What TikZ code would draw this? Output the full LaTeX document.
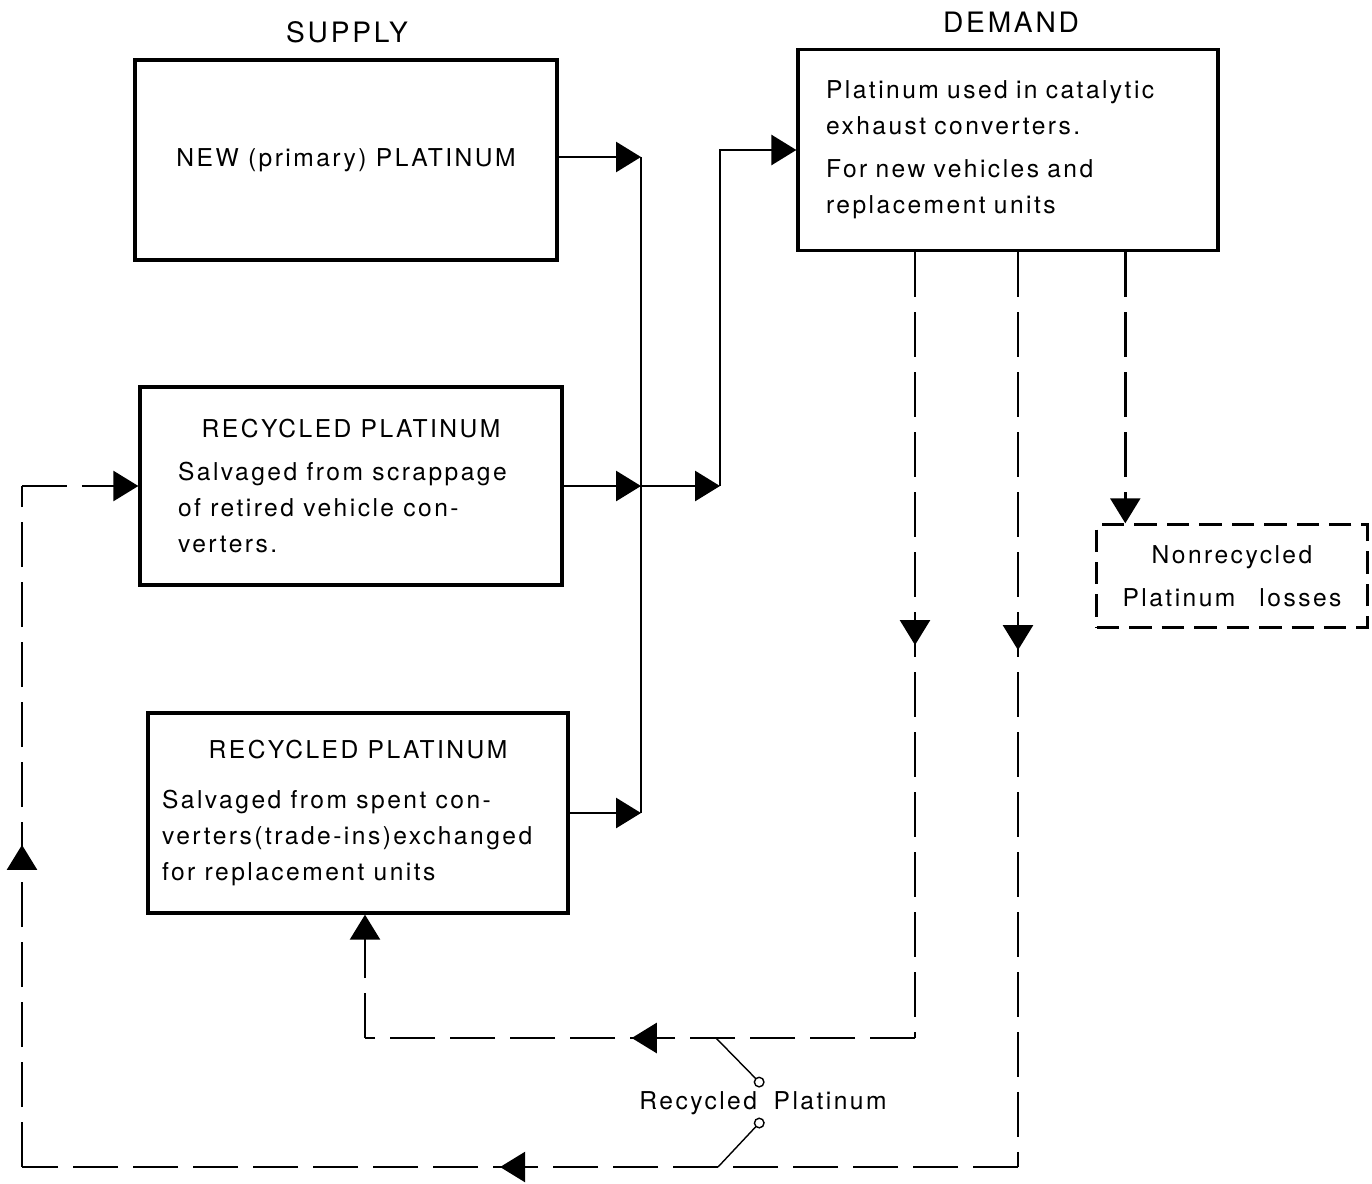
\documentclass[tikz,border=0pt]{standalone}
\usepackage{fontspec}
\setmainfont{TeX Gyre Heros}[LetterSpace=10]
\usetikzlibrary{arrows.meta, positioning, calc, decorations.markings}
\tikzstyle{box} = [rectangle, draw=black, line width=1.9pt, text centered]
\tikzstyle{lossbox} = [rectangle, draw=black, line width=1.4pt, dash pattern=on 0.45cm off 0.2cm, align=center]
\tikzstyle{feed} = [line width=1.6pt]
\tikzstyle{arrow} = [line width=1.6pt, -{Triangle[length=5mm,width=6mm]}]
\tikzstyle{back} = [line width=1.4pt, dash pattern=on 0.9cm off 0.3cm]
\tikzstyle{backarrow} = [back, -{Triangle[length=5mm,width=6mm]}]
\tikzstyle{tag} = [line width=0.8pt, -{Circle[open,length=2.2mm]}]
\tikzset{midarrow/.style={postaction={decorate}, decoration={markings, mark=at position #1 with {\arrow{Triangle[length=5mm,width=6mm]}}}}}

\begin{document}
\begin{tikzpicture}[x=0.02cm, y=-0.02cm, font=\fontsize{14pt}{20.5pt}\selectfont]
    \useasboundingbox (0,0) rectangle (1372,1183);

        % Supply column
        \node (supply) at (347,32) {\fontsize{16pt}{19pt}\selectfont SUPPLY};
        \node (new) [box, minimum width=8.44cm, minimum height=4cm] at (346,160) {NEW (primary) PLATINUM};
        \node (rec1) [box, minimum width=8.44cm, minimum height=3.96cm] at (351,486)
            {\parbox{6.92cm}{{\centering RECYCLED PLATINUM\par}\vspace{4pt}\raggedright
             Salvaged from scrappage\\ of retired vehicle con-\\ verters.}};
        \node (rec2) [box, minimum width=8.4cm, minimum height=4cm] at (358,813)
            {\parbox{7.84cm}{{\centering RECYCLED PLATINUM\par}\vspace{8pt}\raggedright
             Salvaged from spent con-\\ verters(trade-ins)exchanged\\ for replacement units}};

        % Demand column
        \node (demandlbl) at (1011,22) {\fontsize{16pt}{19pt}\selectfont DEMAND};
        \node (demand) [box, minimum width=8.4cm, minimum height=4.02cm, text width=7.28cm, align=left] at (1008,150)
            {Platinum used in catalytic\\ exhaust converters.\\[4pt] For new vehicles and\\ replacement units};
        \node (losses) [lossbox, minimum width=5.42cm, minimum height=2.06cm] at (1232,576)
            {Nonrecycled\\[4pt] Platinum\hspace{0.6em} losses};

        % Supply to demand
        \coordinate (busT) at (641,157);
        \coordinate (join) at (641,486);
        \coordinate (busB) at (641,813);
        \coordinate (turn) at (720,486);
        \draw [arrow] (new.east |- busT) -- (busT);
        \draw [arrow] (rec1.east) -- (join);
        \draw [arrow] (rec2.east) -- (busB);
        \draw [feed] (busT) -- (busB);
        \draw [arrow] (join) -- (turn);
        \draw [arrow] (turn) |- (demand.west);

        % Recycling loops
        \coordinate (inA) at (915,1038);
        \coordinate (inB) at (365,1038);
        \coordinate (outA) at (1018,1167);
        \coordinate (outB) at (22,1167);
        \coordinate (outC) at (22,486);
        \coordinate (lossIn) at ($(losses.north west)+(30,0)$);

        \draw [back, midarrow=0.5] (demand.south -| inA) -- (inA);
        \draw [back, midarrow=0.515] (inA) -- (inB);
        \draw [backarrow] (inB) -- (rec2.south -| inB);

        \draw [back, midarrow=0.435] (demand.south -| outA) -- (outA);
        \draw [back, midarrow=0.52] (outA) -- (outB);
        \draw [back, midarrow=0.473] (outB) -- (outC);
        \draw [backarrow] (outC) -- (rec1.west);

        \draw [backarrow] (demand.south -| lossIn) -- (lossIn);

        % Label of the two loops
        \node (recyc) at (763,1103) {Recycled\hspace{0.3em} Platinum};
        \coordinate (tagA) at (716,1038);
        \coordinate (tagB) at (763,1086);
        \coordinate (tagC) at (718,1167);
        \coordinate (tagD) at (763,1119);
        \draw [tag] (tagA) -- (tagB);
        \draw [tag] (tagC) -- (tagD);

    \end{tikzpicture}
\end{document}
